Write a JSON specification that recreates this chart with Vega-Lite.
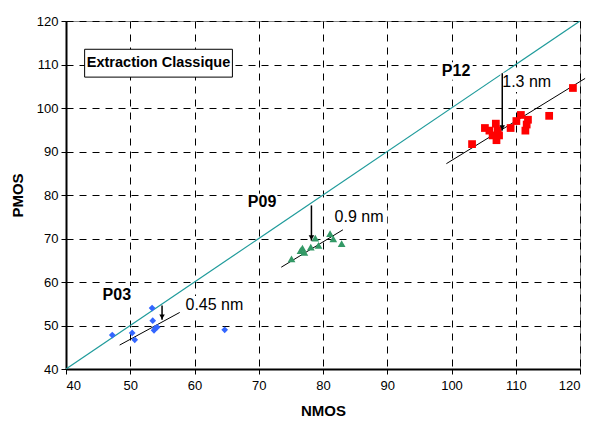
{
  "$schema": "https://vega.github.io/schema/vega-lite/v6.json",
  "width": 514,
  "height": 348,
  "autosize": {"type": "none"},
  "padding": {"left": 66, "top": 21, "right": 12, "bottom": 54},
  "background": "white",
  "config": {
    "view": {"stroke": "#888888", "strokeWidth": 1},
    "font": "Liberation Sans",
    "axis": {
      "labelFont": "Liberation Sans",
      "labelFontSize": 13,
      "labelColor": "black",
      "titleFont": "Liberation Sans",
      "titleFontSize": 15,
      "titleFontWeight": "bold",
      "titleColor": "black",
      "domainColor": "black",
      "domainWidth": 2,
      "tickColor": "black",
      "tickSize": 5,
      "tickWidth": 1,
      "gridColor": "black",
      "gridOpacity": 1,
      "gridWidth": 1,
      "gridDash": [7, 6]
    }
  },
  "datasets": {
    "diag": [{"x": 40, "y": 40}, {"x": 120, "y": 120}],
    "fits": [
      {"g": "P03", "x": 48.35, "y": 45.5}, {"g": "P03", "x": 57.7, "y": 53.0},
      {"g": "P09", "x": 73.5, "y": 63.4}, {"g": "P09", "x": 83.1, "y": 72.0},
      {"g": "P12", "x": 99.2, "y": 87.2}, {"g": "P12", "x": 120.8, "y": 106.8}
    ],
    "arrows": [
      {"g": "P03", "x": 54.95, "y": 54.6, "y2": 51.3},
      {"g": "P09", "x": 78.2, "y": 77.6, "y2": 69.5},
      {"g": "P12", "x": 107.9, "y": 108.0, "y2": 94.8}
    ],
    "p03": [
      {"x": 47.2, "y": 47.8}, {"x": 50.3, "y": 48.3}, {"x": 50.7, "y": 46.7},
      {"x": 53.4, "y": 54.0}, {"x": 53.5, "y": 51.1}, {"x": 53.7, "y": 48.9},
      {"x": 53.9, "y": 49.4}, {"x": 54.2, "y": 49.6}, {"x": 64.7, "y": 49.0}
    ],
    "p09": [
      {"x": 75.1, "y": 65.3}, {"x": 76.5, "y": 67.2}, {"x": 76.8, "y": 67.8},
      {"x": 77.1, "y": 66.8}, {"x": 78.1, "y": 68.0}, {"x": 78.8, "y": 70.1},
      {"x": 79.3, "y": 68.4}, {"x": 81.1, "y": 71.1}, {"x": 81.6, "y": 69.9},
      {"x": 82.9, "y": 68.8}
    ],
    "p12": [
      {"x": 103.2, "y": 91.7}, {"x": 105.2, "y": 95.4}, {"x": 105.9, "y": 94.8},
      {"x": 106.9, "y": 96.4}, {"x": 107.2, "y": 94.9}, {"x": 106.4, "y": 93.7},
      {"x": 107.0, "y": 92.6}, {"x": 107.4, "y": 93.7}, {"x": 109.2, "y": 95.4},
      {"x": 110.1, "y": 97.0}, {"x": 110.8, "y": 98.4}, {"x": 111.5, "y": 94.8},
      {"x": 111.9, "y": 97.3}, {"x": 111.7, "y": 96.2}, {"x": 115.2, "y": 98.2},
      {"x": 118.9, "y": 104.6}
    ],
    "nmlabels": [
      {"t": "0.45 nm", "x": 58.6, "y": 54.6, "bx": 58.3, "bx2": 68.0, "by": 52.4, "by2": 56.8},
      {"t": "0.9 nm", "x": 81.8, "y": 74.9, "bx": 81.5, "bx2": 90.0, "by": 72.7, "by2": 77.1},
      {"t": "1.3 nm", "x": 107.9, "y": 105.9, "bx": 107.6, "bx2": 115.8, "by": 103.7, "by2": 108.1}
    ],
    "plabels": [
      {"t": "P03", "x": 45.7, "y": 57.1, "bx": 45.5, "bx2": 50.6, "by": 55.2, "by2": 59.1},
      {"t": "P09", "x": 68.3, "y": 78.3, "bx": 68.1, "bx2": 72.9, "by": 76.3, "by2": 80.3},
      {"t": "P12", "x": 98.5, "y": 108.5, "bx": 98.3, "bx2": 103.3, "by": 106.5, "by2": 110.5}
    ],
    "box": [{"x": 42.9, "x2": 65.9, "y": 113.5, "y2": 107.1, "xc": 54.4, "yc": 110.3, "t": "Extraction Classique"}]
  },
  "layer": [
    {
      "data": {"name": "diag"},
      "mark": {"type": "line", "color": "#1f9b9b", "strokeWidth": 1.2, "clip": true},
      "encoding": {
        "x": {"field": "x", "type": "quantitative", "scale": {"domain": [40, 120], "nice": false},
              "axis": {"title": "NMOS", "values": [40, 50, 60, 70, 80, 90, 100, 110, 120], "titlePadding": 11, "labelPadding": 5}},
        "y": {"field": "y", "type": "quantitative", "scale": {"domain": [40, 120], "nice": false},
              "axis": {"title": "PMOS", "values": [40, 50, 60, 70, 80, 90, 100, 110, 120], "titlePadding": 11, "labelPadding": 3}}
      }
    },
    {
      "data": {"name": "nmlabels"},
      "mark": {"type": "rect", "fill": "white", "stroke": null},
      "encoding": {
        "x": {"field": "bx", "type": "quantitative"},
        "x2": {"field": "bx2"},
        "y": {"field": "by", "type": "quantitative"},
        "y2": {"field": "by2"}
      }
    },
    {
      "data": {"name": "plabels"},
      "mark": {"type": "rect", "fill": "white", "stroke": null},
      "encoding": {
        "x": {"field": "bx", "type": "quantitative"},
        "x2": {"field": "bx2"},
        "y": {"field": "by", "type": "quantitative"},
        "y2": {"field": "by2"}
      }
    },
    {
      "data": {"name": "fits"},
      "mark": {"type": "line", "color": "black", "strokeWidth": 1},
      "encoding": {
        "x": {"field": "x", "type": "quantitative"},
        "y": {"field": "y", "type": "quantitative"},
        "detail": {"field": "g"}
      }
    },
    {
      "data": {"name": "box"},
      "mark": {"type": "rect", "fill": "white", "stroke": "black", "strokeWidth": 1},
      "encoding": {
        "x": {"field": "x", "type": "quantitative"},
        "x2": {"field": "x2"},
        "y": {"field": "y", "type": "quantitative"},
        "y2": {"field": "y2"}
      }
    },
    {
      "data": {"name": "box"},
      "mark": {"type": "text", "fontSize": 14.5, "fontWeight": "bold", "color": "black", "align": "center", "baseline": "middle"},
      "encoding": {
        "x": {"field": "xc", "type": "quantitative"},
        "y": {"field": "yc", "type": "quantitative"},
        "text": {"field": "t"}
      }
    },
    {
      "data": {"name": "p03"},
      "mark": {"type": "point", "shape": "diamond", "filled": true, "color": "#3366ff", "size": 45, "opacity": 1},
      "encoding": {
        "x": {"field": "x", "type": "quantitative"},
        "y": {"field": "y", "type": "quantitative"}
      }
    },
    {
      "data": {"name": "p09"},
      "mark": {"type": "point", "shape": "triangle-up", "filled": true, "color": "#339966", "size": 60, "opacity": 1},
      "encoding": {
        "x": {"field": "x", "type": "quantitative"},
        "y": {"field": "y", "type": "quantitative"}
      }
    },
    {
      "data": {"name": "p12"},
      "mark": {"type": "point", "shape": "square", "filled": true, "color": "#ff0000", "size": 60, "opacity": 1},
      "encoding": {
        "x": {"field": "x", "type": "quantitative"},
        "y": {"field": "y", "type": "quantitative"}
      }
    },
    {
      "data": {"name": "arrows"},
      "mark": {"type": "rule", "color": "black", "strokeWidth": 1.5},
      "encoding": {
        "x": {"field": "x", "type": "quantitative"},
        "y": {"field": "y", "type": "quantitative"},
        "y2": {"field": "y2"}
      }
    },
    {
      "data": {"name": "arrows"},
      "mark": {"type": "point", "shape": "triangle-down", "filled": true, "color": "black", "size": 30, "opacity": 1, "yOffset": -3},
      "encoding": {
        "x": {"field": "x", "type": "quantitative"},
        "y": {"field": "y2", "type": "quantitative"}
      }
    },
    {
      "data": {"name": "nmlabels"},
      "mark": {"type": "text", "fontSize": 16, "color": "black", "align": "left", "baseline": "middle"},
      "encoding": {
        "x": {"field": "x", "type": "quantitative"},
        "y": {"field": "y", "type": "quantitative"},
        "text": {"field": "t"}
      }
    },
    {
      "data": {"name": "plabels"},
      "mark": {"type": "text", "fontSize": 16, "fontWeight": "bold", "color": "black", "align": "left", "baseline": "middle"},
      "encoding": {
        "x": {"field": "x", "type": "quantitative"},
        "y": {"field": "y", "type": "quantitative"},
        "text": {"field": "t"}
      }
    }
  ]
}
